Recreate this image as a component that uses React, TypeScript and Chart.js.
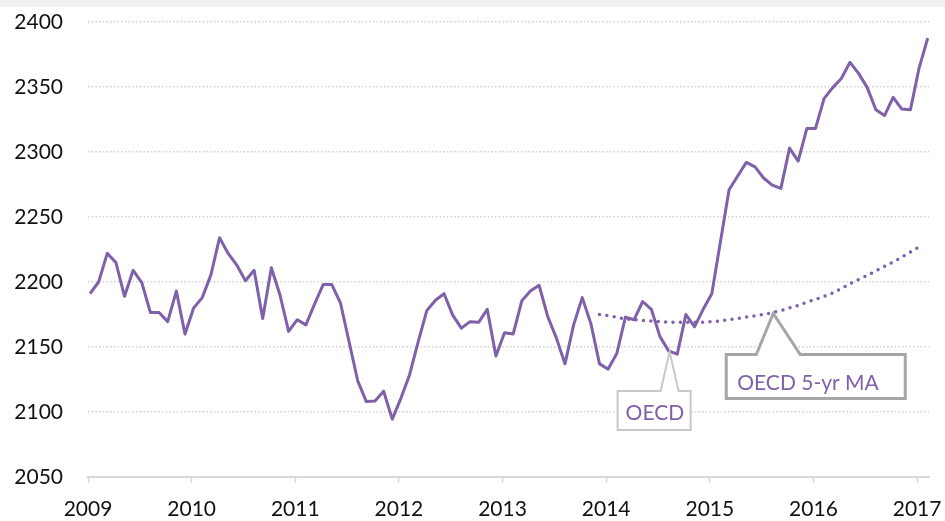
import React, { useEffect, useRef } from "react";
import { Chart, registerables } from "chart.js";

Chart.register(...registerables);

// Year tick labels (one every 12 months, first month = Jan 2009)
const yearLabels = ["2009", "2010", "2011", "2012", "2013", "2014", "2015", "2016", "2017"];
const yTickValues = [2050, 2100, 2150, 2200, 2250, 2300, 2350, 2400];

// OECD monthly values, Jan 2009 .. Feb 2017
const oecd = [
  2191, 2200, 2222, 2215, 2189, 2209, 2199.5, 2176.5, 2176.5, 2169.5, 2193, 2160,
  2180, 2188, 2205.5, 2234, 2222, 2213, 2201, 2209, 2172, 2211, 2190, 2162,
  2171, 2167, 2183, 2198, 2198, 2184, 2154, 2124, 2108, 2108.5, 2116, 2094.5,
  2110.5, 2128.5, 2154, 2178, 2186, 2191, 2174.5, 2164.5, 2169.5, 2169, 2179, 2143,
  2161, 2160, 2185.5, 2193, 2197.5, 2173.5, 2157, 2137, 2167, 2188, 2168, 2137,
  2133, 2145, 2173, 2171, 2185, 2179, 2158, 2147, 2144.5, 2175, 2165.5, 2179,
  2191, 2231, 2271, 2281.5, 2292, 2288.5, 2280, 2274.5, 2272, 2303, 2293, 2318,
  2318, 2341, 2349.5, 2356.5, 2369, 2360.5, 2349.5, 2332.5, 2328, 2342, 2333, 2332.5,
  2364.5, 2387.5,
];

// OECD 5-yr moving average, Dec 2013 .. Jan 2017 (null where not shown)
const oecdMA = [
  null, null, null, null, null, null, null, null, null, null, null, null,
  null, null, null, null, null, null, null, null, null, null, null, null,
  null, null, null, null, null, null, null, null, null, null, null, null,
  null, null, null, null, null, null, null, null, null, null, null, null,
  null, null, null, null, null, null, null, null, null, null, null, 2175,
  2174, 2173, 2171.5, 2171, 2170.5, 2170, 2169.5, 2169, 2169, 2169, 2169, 2169,
  2169.5, 2170, 2171, 2172, 2173, 2174, 2175, 2176.5, 2178, 2180, 2182, 2184.5,
  2186.5, 2189, 2191.5, 2195, 2198.5, 2202, 2205, 2208.5, 2212, 2215.5, 2219, 2223,
  2227, null,
];

const PURPLE = "#7E61A8";
const FONT = "Lato";

type Callout = {
  text: string;
  series: number;
  index: number;
  box: [number, number, number, number]; // left, right, top, bottom offsets from apex
  base: [number, number];
  stroke: string;
  width: number;
  textPos: [number, number];
};

const callouts: Callout[] = [
  { text: "OECD", series: 0, index: 67, box: [-52, 21, 39, 78], base: [-9, 9], stroke: "#c8c8c8", width: 2, textPos: [8, 29] },
  { text: "OECD 5-yr MA", series: 1, index: 79, box: [-47, 132, 41, 85], base: [-17, 27], stroke: "#a6a6a6", width: 3, textPos: [11, 35] },
];

const calloutPlugin = {
  id: "callouts",
  afterDatasetsDraw(chart: any) {
    const { ctx, scales } = chart;
    const xs = scales.x;
    const ys = scales.y;
    for (const c of callouts) {
      const val = (c.series === 0 ? oecd : oecdMA)[c.index] as number;
      const ax = xs.getPixelForValue(c.index) + 1;
      const ay = ys.getPixelForValue(val) + 1;
      const L = ax + c.box[0];
      const R = ax + c.box[1];
      const T = ay + c.box[2];
      const B = ay + c.box[3];
      ctx.save();
      ctx.beginPath();
      ctx.moveTo(L, T);
      ctx.lineTo(ax + c.base[0], T);
      ctx.lineTo(ax, ay);
      ctx.lineTo(ax + c.base[1], T);
      ctx.lineTo(R, T);
      ctx.lineTo(R, B);
      ctx.lineTo(L, B);
      ctx.closePath();
      ctx.fillStyle = "#ffffff";
      ctx.fill();
      ctx.lineWidth = c.width;
      ctx.strokeStyle = c.stroke;
      ctx.lineJoin = "miter";
      ctx.stroke();
      ctx.fillStyle = PURPLE;
      ctx.font = `21px ${FONT}`;
      ctx.textAlign = "left";
      ctx.textBaseline = "alphabetic";
      ctx.fillText(c.text, L + c.textPos[0], T + c.textPos[1]);
      ctx.restore();
    }
  },
};

export default function App() {
  const ref = useRef<HTMLCanvasElement | null>(null);

  useEffect(() => {
    if (!ref.current) return;
    const chart = new Chart(ref.current, {
      type: "line",
      data: {
        datasets: [
          {
            label: "OECD",
            data: oecd.map((v, i) => ({ x: i, y: v })),
            borderColor: PURPLE,
            borderWidth: 3,
            pointRadius: 0,
            tension: 0,
            borderJoinStyle: "round",
          },
          {
            label: "OECD 5-yr MA",
            data: oecdMA.map((v, i) => ({ x: i, y: v })),
            borderColor: PURPLE,
            borderWidth: 3.5,
            borderDash: [0, 7.4],
            borderCapStyle: "round",
            pointRadius: 0,
            tension: 0,
            spanGaps: false,
          },
        ],
      },
      options: {
        animation: false,
        responsive: false,
        devicePixelRatio: 1,
        layout: { padding: { top: 22, right: 16, bottom: 0, left: 0 } },
        plugins: { legend: { display: false }, tooltip: { enabled: false } },
        scales: {
          x: {
            type: "linear",
            min: -0.23,
            max: 97.15,
            afterBuildTicks: (s: any) => {
              s.ticks = yearLabels.map((_, k) => ({ value: -0.23 + 12 * k }));
            },
            afterFit: (s: any) => {
              s.height = 44;
              s.paddingLeft = 0;
              s.paddingRight = 0;
            },
            ticks: {
              autoSkip: false,
              maxRotation: 0,
              padding: 14,
              color: "#111111",
              font: { family: FONT, size: 21 },
              callback: (v: any) => yearLabels[Math.round((Number(v) + 0.23) / 12)] ?? "",
            },
            grid: {
              drawOnChartArea: false,
              drawTicks: true,
              tickLength: 6,
              tickColor: "#d9d9d9",
              tickWidth: 1.5,
              color: "#d9d9d9",
            },
            border: { display: true, color: "#d9d9d9", width: 2 },
          },
          y: {
            type: "linear",
            min: 2050,
            max: 2400,
            afterBuildTicks: (s: any) => {
              s.ticks = yTickValues.map((v) => ({ value: v }));
            },
            afterFit: (s: any) => {
              s.width = 88;
              s.paddingTop = 0;
              s.paddingBottom = 0;
            },
            ticks: {
              padding: 25,
              color: "#111111",
              font: { family: FONT, size: 21 },
              callback: (v: any) => String(v),
            },
            grid: {
              drawTicks: false,
              color: "#cfcfcf",
              lineWidth: 1.5,
            },
            border: { display: false, dash: [1.5, 2.2] },
          },
        },
      },
      plugins: [calloutPlugin],
    } as any);
    return () => chart.destroy();
  }, []);

  return (
    <div style={{ position: "fixed", left: 0, top: 0, width: 945, height: 521, background: "#ffffff" }}>
      <div style={{ position: "absolute", left: 0, top: 0, width: 945, height: 7, background: "#f2f2f2" }} />
      <canvas ref={ref} width={945} height={521} style={{ position: "absolute", left: 0, top: 0, width: 945, height: 521 }} />
    </div>
  );
}
